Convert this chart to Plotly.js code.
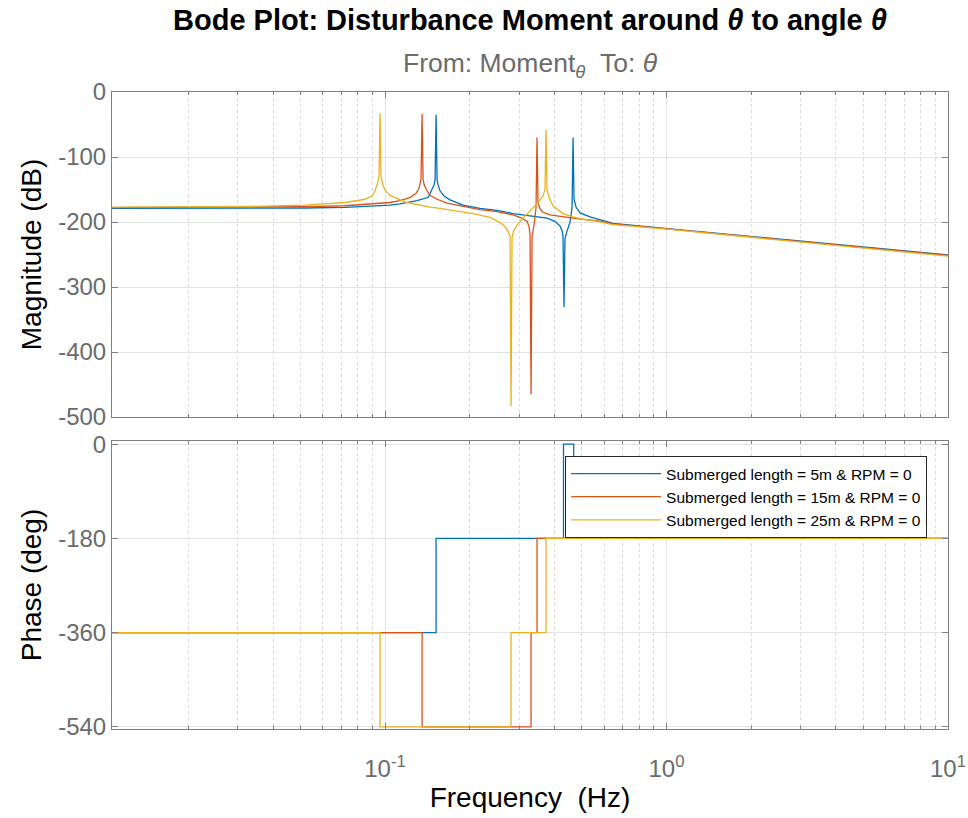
<!DOCTYPE html>
<html>
<head>
<meta charset="utf-8">
<script src="https://cdn.plot.ly/plotly-3.0.1.min.js"></script>
<style>
  html, body { margin: 0; padding: 0; background: #ffffff; }
  #bode { width: 968px; height: 818px; }
</style>
</head>
<body>
<div id="bode"></div>
<script>
// Legend labels
const seriesNames = [
  'Submerged length = 5m & RPM = 0',
  'Submerged length = 15m & RPM = 0',
  'Submerged length = 25m & RPM = 0'
];

// Magnitude response, submerged length 5 m (Hz, dB)
const freq5 = [0.0107, 0.0220, 0.0331, 0.0520, 0.0721, 0.0899, 0.1042, 0.1130, 0.1299, 0.1424, 0.1463, 0.1493, 0.1506,
  0.1518, 0.1531, 0.1543, 0.1568, 0.1621, 0.1702, 0.1893, 0.2175, 0.2500, 0.2849, 0.3275, 0.3762, 0.4008, 0.4184,
  0.4254, 0.4288, 0.4323, 0.4359, 0.4431, 0.4543, 0.4580, 0.4618, 0.4655, 0.4693, 0.4771, 0.4930, 0.5350, 0.5665,
  0.6456, 1.029, 2.029, 4.377, 10.0];
const mag5 = [-179, -179, -178.8, -178.5, -177.5, -176, -174, -172, -167, -162, -152, -143, -135,
  -35, -135, -143, -152, -160, -166, -174, -179, -182, -187, -190, -194, -199, -206,
  -213, -222, -331, -225, -214, -200, -190, -176, -70, -165, -177, -186, -192, -195,
  -202, -210.5, -222.5, -236, -250.5];

// Magnitude response, submerged length 15 m (Hz, dB)
const freq15 = [0.0107, 0.0220, 0.0331, 0.0520, 0.0721, 0.0899, 0.1042, 0.1130, 0.1230, 0.1289, 0.1320, 0.1331, 0.1342,
  0.1354, 0.1365, 0.1376, 0.1400, 0.1445, 0.1531, 0.1661, 0.1893, 0.2175, 0.2500, 0.2849, 0.3067, 0.3196, 0.3248,
  0.3275, 0.3302, 0.3329, 0.3383, 0.3411, 0.3439, 0.3467, 0.3495, 0.3553, 0.3641, 0.3854, 0.4288, 0.4930, 0.5665,
  0.6456, 1.029, 2.029, 4.377, 10.0];
const mag15 = [-178, -177.8, -177.5, -176.5, -175, -172.5, -170, -167, -162, -156, -148, -142, -134,
  -34, -134, -142, -150, -159, -165, -171, -176, -181, -184, -189, -194, -199, -207,
  -220, -465, -222, -205, -195, -178, -70, -170, -180, -185, -189, -192, -195.5, -198,
  -203, -211, -223, -237, -251.5];

// Magnitude response, submerged length 25 m (Hz, dB)
const freq25 = [0.0107, 0.0220, 0.0331, 0.0520, 0.0721, 0.0849, 0.0899, 0.0921, 0.0936, 0.0944, 0.0952,
  0.0960, 0.0968, 0.0976, 0.0984, 0.1000, 0.1042, 0.1130, 0.1197, 0.1445, 0.1568, 0.2053, 0.2360, 0.2562, 0.2668,
  0.2734, 0.2780, 0.2803, 0.2826, 0.2872, 0.2969, 0.3093, 0.3275, 0.3467, 0.3583, 0.3641, 0.3701, 0.3731, 0.3762,
  0.3824, 0.3951, 0.4288, 0.4655, 0.4930, 0.5665, 0.6456, 1.029, 2.029, 4.377, 10.0];
const mag25 = [-177, -176.8, -176, -174, -170, -165, -160, -152, -144, -138, -130,
  -33, -130, -138, -144, -151, -159, -166, -170, -177, -179, -187, -193, -201, -207,
  -214, -222, -483, -224, -212, -203, -194, -183, -172, -164, -160, -150, -58, -150,
  -162, -175, -187, -192, -195, -199, -204, -211.5, -224, -238, -252.5];

// Phase steps (Hz, deg); each value holds until the next break frequency
const phaseFreq5 = [0.0107, 0.1518, 0.4305, 0.4680, 10.0];
const phase5 = [-360, -180, 0, -180, -180];
const phaseFreq15 = [0.0107, 0.1354, 0.3302, 0.3467, 10.0];
const phase15 = [-360, -540, -360, -180, -180];
const phaseFreq25 = [0.0107, 0.0960, 0.2803, 0.3731, 10.0];
const phase25 = [-360, -540, -360, -180, -180];

const colors = ['#0072BD', '#D95319', '#EDB120'];
const magFreqs = [freq5, freq15, freq25];
const magVals = [mag5, mag15, mag25];
const phFreqs = [phaseFreq5, phaseFreq15, phaseFreq25];
const phVals = [phase5, phase15, phase25];

const traces = [];
for (let i = 0; i < 3; i++) {
  traces.push({
    x: magFreqs[i], y: magVals[i], type: 'scatter', mode: 'lines',
    xaxis: 'x2', yaxis: 'y2', name: seriesNames[i], showlegend: false,
    line: { color: colors[i], width: 1.3 }, hoverinfo: 'x+y'
  });
}
for (let i = 0; i < 3; i++) {
  traces.push({
    x: phFreqs[i], y: phVals[i], type: 'scatter', mode: 'lines',
    xaxis: 'x', yaxis: 'y', name: seriesNames[i], showlegend: true,
    line: { color: colors[i], width: 1.3, shape: 'hv' }, hoverinfo: 'x+y'
  });
}

// Minor log ticks at 2..9 of every decade in view
const minorTicks = [];
for (let d = -2; d <= 0; d++) {
  for (let m = 2; m <= 9; m++) minorTicks.push(m * Math.pow(10, d));
}

const FONT = 'Liberation Sans, Arial, sans-serif';
const tickFont = { family: FONT, size: 24, color: '#6b6b6b' };
const labelFont = { family: FONT, size: 28, color: '#000000' };
const frameColor = '#7f7f7f';

const logAxis = {
  type: 'log', range: [-1.97, 1.0],
  tickmode: 'array', tickvals: [0.1, 1, 10],
  ticktext: ['10<sup>-1</sup>', '10<sup>0</sup>', '10<sup>1</sup>'],
  ticks: 'inside', ticklen: 6, tickcolor: frameColor,
  showline: true, linecolor: frameColor, linewidth: 1, mirror: 'allticks',
  showgrid: true, gridcolor: '#e3e3e3', gridwidth: 1,
  zeroline: false, tickfont: tickFont,
  minor: {
    tickmode: 'array', tickvals: minorTicks, ticks: 'inside', ticklen: 3,
    tickcolor: frameColor, showgrid: true, gridcolor: '#dcdcdc', griddash: 'dot', gridwidth: 1
  }
};

const layout = {
  width: 968, height: 818,
  margin: { l: 112, r: 20, t: 92, b: 89 },
  paper_bgcolor: '#ffffff', plot_bgcolor: '#ffffff',
  font: { family: FONT, color: '#262626' },
  title: {
    text: '<b>Bode Plot: Disturbance Moment around <i>θ</i> to angle <i>θ</i></b>',
    font: { family: FONT, size: 29, color: '#000000' },
    x: 0.5, xref: 'paper', xanchor: 'center',
    y: 1 - 20 / 818, yref: 'container', yanchor: 'middle'
  },
  showlegend: true,
  legend: {
    x: 0.542, y: 0.4286, xanchor: 'left', yanchor: 'top',
    bgcolor: '#ffffff', bordercolor: '#262626', borderwidth: 1,
    font: { family: FONT, size: 15.5, color: '#000000' },
    itemwidth: 90, tracegroupgap: 0
  },
  xaxis: Object.assign({}, logAxis, {
    anchor: 'y', domain: [0, 1], ticklabelstandoff: 18,
    title: { text: 'Frequency  (Hz)', font: labelFont, standoff: 6 }
  }),
  xaxis2: Object.assign({}, logAxis, {
    anchor: 'y2', domain: [0, 1], matches: 'x', showticklabels: false
  }),
  yaxis: {
    anchor: 'x', domain: [0, 0.4521], range: [-544, 6],
    tickmode: 'array', tickvals: [-540, -360, -180, 0], ticktext: ['-540', '-360', '-180', '0'],
    ticks: 'inside', ticklen: 6, tickcolor: frameColor,
    showline: true, linecolor: frameColor, mirror: 'allticks',
    showgrid: true, gridcolor: '#e3e3e3', zeroline: false, tickfont: tickFont,
    title: { text: 'Phase (deg)', font: labelFont, standoff: 8 }
  },
  yaxis2: {
    anchor: 'x2', domain: [0.4898, 1], range: [-500, 0],
    tickmode: 'array', tickvals: [-500, -400, -300, -200, -100, 0],
    ticktext: ['-500', '-400', '-300', '-200', '-100', '0'],
    ticks: 'inside', ticklen: 6, tickcolor: frameColor,
    showline: true, linecolor: frameColor, mirror: 'allticks',
    showgrid: true, gridcolor: '#e3e3e3', zeroline: false, tickfont: tickFont,
    title: { text: 'Magnitude (dB)', font: labelFont, standoff: 8 }
  },
  annotations: [{
    text: 'From: Moment<sub><i>θ</i></sub>  To: <i>θ</i>',
    xref: 'paper', yref: 'paper', x: 0.5, y: 1 + 27 / 637,
    xanchor: 'center', yanchor: 'middle', showarrow: false,
    font: { family: FONT, size: 26.5, color: '#6b6b6b' }
  }]
};

Plotly.newPlot('bode', traces, layout, { displayModeBar: false, staticPlot: true });
</script>
</body>
</html>
